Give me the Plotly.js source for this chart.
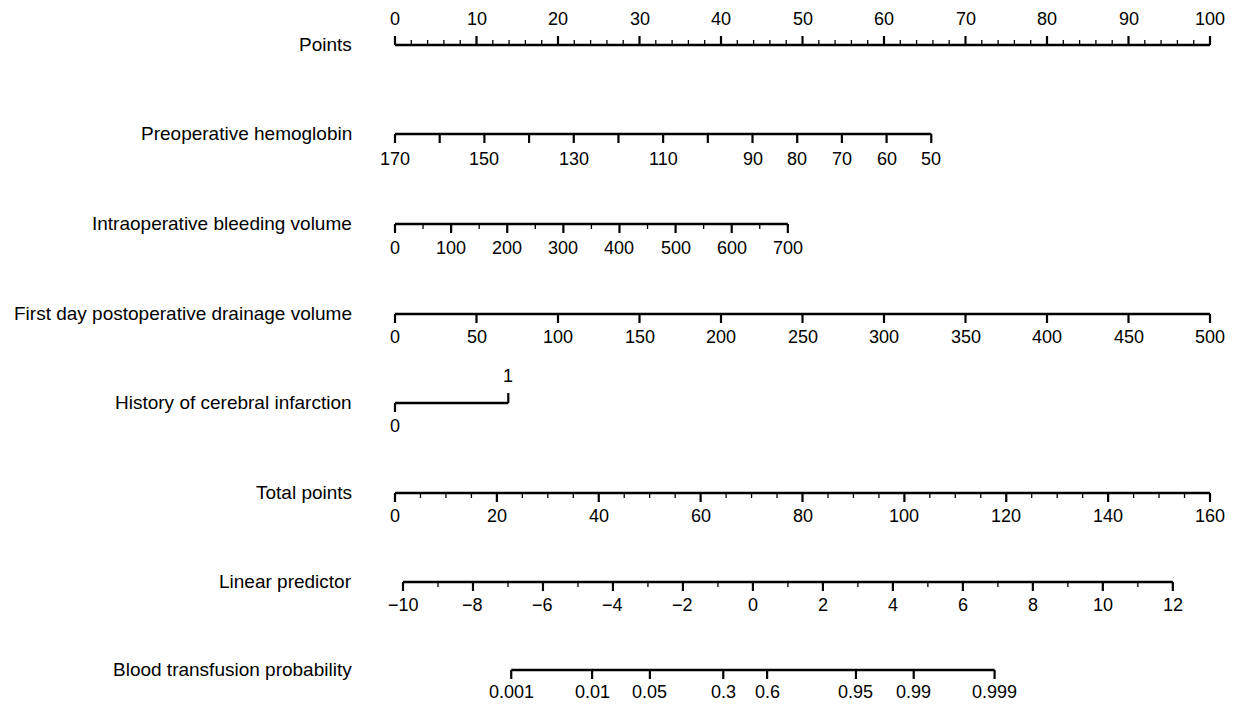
<!DOCTYPE html>
<html><head><meta charset="utf-8">
<script src="https://cdn.plot.ly/plotly-3.0.1.min.js"></script>
<style>html,body{margin:0;padding:0;background:#fff}</style>
</head><body><div id="chart" style="width:1241px;height:705px"></div>
<script>
// ---- data (nomogram scales) ----
const rowNames = ["Points","Preoperative hemoglobin","Intraoperative bleeding volume",
  "First day postoperative drainage volume","History of cerebral infarction",
  "Total points","Linear predictor","Blood transfusion probability"];

// Points scale 0..100
const pointsTicks = [0,2,4,6,8,10,12,14,16,18,20,22,24,26,28,30,32,34,36,38,40,42,44,46,48,50,52,54,56,58,60,62,64,66,68,70,72,74,76,78,80,82,84,86,88,90,92,94,96,98,100];
const pointsLabels = [0,10,20,30,40,50,60,70,80,90,100];

// Preoperative hemoglobin: value -> points (170 -> 0, 50 -> 65.8)
const hgbTicks = [170,160,150,140,130,120,110,100,90,80,70,60,50];
const hgbLabels = [170,150,130,110,90,80,70,60,50];
const hgbEnds = [170,50]; const hgbEndPts = [0,65.8];

// Intraoperative bleeding volume (0 -> 0, 700 -> 48.2)
const bleedTicks = [0,50,100,150,200,250,300,350,400,450,500,550,600,650,700];
const bleedLabels = [0,100,200,300,400,500,600,700];
const bleedEnds = [0,700]; const bleedEndPts = [0,48.2];

// First day postoperative drainage volume (0 -> 0, 500 -> 100)
const drainTicks = [0,50,100,150,200,250,300,350,400,450,500];
const drainLabels = [0,50,100,150,200,250,300,350,400,450,500];
const drainEnds = [0,500]; const drainEndPts = [0,100];

// History of cerebral infarction (0 -> 0, 1 -> 13.9)
const cerebVals = [0,1]; const cerebPts = [0,13.9];

// Total points 0..160 maps onto points 0..100
const totalTicks = [0,5,10,15,20,25,30,35,40,45,50,55,60,65,70,75,80,85,90,95,100,105,110,115,120,125,130,135,140,145,150,155,160];
const totalLabels = [0,20,40,60,80,100,120,140,160];
const totalMax = 160;

// Linear predictor: -10 at total 1.57, 12 at total 152.7
const lpTicks = [-10,-9,-8,-7,-6,-5,-4,-3,-2,-1,0,1,2,3,4,5,6,7,8,9,10,11,12];
const lpLabels = [-10,-8,-6,-4,-2,0,2,4,6,8,10,12];
const lpEnds = [-10,12]; const lpEndTotal = [1.57,152.7];

// Blood transfusion probability
const probTicks = [0.001,0.01,0.05,0.3,0.6,0.95,0.99,0.999];
const probLabels = ["0.001","0.01","0.05","0.3","0.6","0.95","0.99","0.999"];

// ---- layout helpers ----
const rowY = [45,134,224,314,403,493,582,670];
const lin = (ends, pts) => v => pts[0] + (v-ends[0])*(pts[1]-pts[0])/(ends[1]-ends[0]);
const fTotal = t => t*100/totalMax;
const fLp = v => fTotal(lin(lpEnds, lpEndTotal)(v));
const logit = p => Math.log(p/(1-p));
const fProb = p => fLp(logit(p));
const fHgb = lin(hgbEnds,hgbEndPts), fBleed = lin(bleedEnds,bleedEndPts), fDrain = lin(drainEnds,drainEndPts);
const fCereb = lin(cerebVals, cerebPts);

const traces = [];
const annotations = [];
const FONT = {family:"Liberation Sans, Arial, Helvetica, sans-serif", size:19, color:"#000"};
const TFONT = {family:"Liberation Sans, Arial, Helvetica, sans-serif", size:18, color:"#000"};

function addLine(x0,x1,y){
  traces.push({x:[x0,x1],y:[y,y],mode:"lines",line:{color:"#000",width:2.4},hoverinfo:"skip",showlegend:false});
}
function addTicks(xs,y,len,width){
  const X=[],Y=[];
  xs.forEach(x=>{X.push(x,x,null);Y.push(y,y+len,null);});
  traces.push({x:X,y:Y,mode:"lines",line:{color:"#000",width:width},hoverinfo:"skip",showlegend:false});
}
function addLabels(xs,texts,y,anchor){
  xs.forEach((x,i)=>annotations.push({x:x,y:y,xref:"x",yref:"y",text:String(texts[i]).replace("-","\u2212"),
    showarrow:false,xanchor:"center",yanchor:anchor,font:TFONT}));
}
function row(f, ticks, labels, y, dir, minorOf, off){
  const xs = ticks.map(f);
  addLine(Math.min(...xs),Math.max(...xs),y);
  const major = ticks.filter(t=>labels.includes(t)), minor = ticks.filter(t=>!labels.includes(t));
  addTicks(major.map(f), y, dir*9, 2.2);
  if(minor.length) addTicks(minor.map(f), y, dir*(minorOf||9), minorOf?1.3:2.2);
  addLabels(labels.map(f), labels, dir<0 ? y-14 : y+(off||11), dir<0 ? "bottom":"top");
}

// Points (ticks upward)
row(v=>v, pointsTicks, pointsLabels, rowY[0], -1, 5);
// Hemoglobin (all ticks equal)
row(fHgb, hgbTicks, hgbLabels, rowY[1], 1, null, 13);
// Bleeding
row(fBleed, bleedTicks, bleedLabels, rowY[2], 1, 5, 12);
// Drainage
row(fDrain, drainTicks, drainLabels, rowY[3], 1, null);
// Cerebral infarction
{
  const y = rowY[4];
  addLine(fCereb(0), fCereb(1), y);
  addTicks([fCereb(0)], y, 9, 2.2);
  addTicks([fCereb(1)], y, -10, 2.2);
  addLabels([fCereb(0)],["0"], y+11, "top");
  addLabels([fCereb(1)],["1"], y-15, "bottom");
}
// Total points
row(fTotal, totalTicks, totalLabels, rowY[5], 1, 5);
// Linear predictor
row(fLp, lpTicks, lpLabels, rowY[6], 1, 5);
// Probability
{
  const y = rowY[7];
  const xs = probTicks.map(fProb);
  addLine(xs[0], xs[xs.length-1], y);
  addTicks(xs, y, 9, 2.2);
  addLabels(xs, probLabels, y+10, "top");
}

// Row names
const W = 1241;
rowNames.forEach((n,i)=>annotations.push({x:354/W, y:rowY[i]-1, xref:"paper", yref:"y", text:n,
  showarrow:false, xanchor:"right", yanchor:"middle", font:FONT}));

// Points axis: 0 -> 395 px, 100 -> 1210 px
const pxPerPt = (1210-395)/100;
const layout = {
  width:1241, height:705, margin:{l:0,r:0,t:0,b:0},
  paper_bgcolor:"#fff", plot_bgcolor:"#fff",
  xaxis:{range:[-395/pxPerPt, (W-395)/pxPerPt], visible:false, fixedrange:true},
  yaxis:{range:[705,0], visible:false, fixedrange:true},
  annotations:annotations, showlegend:false
};
Plotly.newPlot("chart", traces, layout, {displayModeBar:false, staticPlot:true});
</script></body></html>
